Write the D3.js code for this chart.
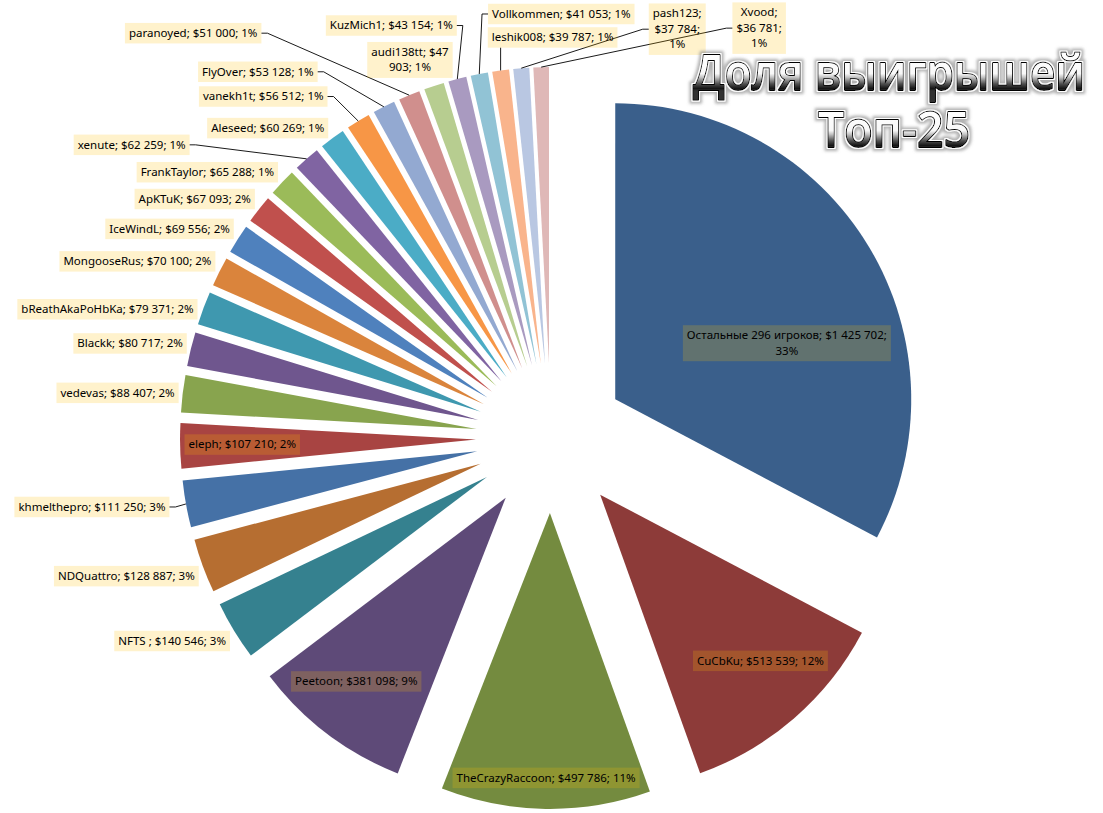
<!DOCTYPE html>
<html>
<head>
<meta charset="utf-8">
<script src="https://cdn.jsdelivr.net/npm/d3@7"></script>
<style>
  body { margin: 0; background: #fff; }
  svg { display: block; }
</style>
</head>
<body>
<svg width="1103" height="813"></svg>
<script>
// players, in the order the slices run clockwise from 12 o'clock
var names = ["Остальные 296 игроков", "CuCbKu", "TheCrazyRaccoon", "Peetoon", "NFTS ", "NDQuattro",
  "khmelthepro", "eleph", "vedevas", "Blackk", "bReathAkaPoHbKa", "MongooseRus", "IceWindL", "ApKTuK",
  "FrankTaylor", "xenute", "Aleseed", "vanekh1t", "FlyOver", "paranoyed", "audi138tt", "KuzMich1",
  "Vollkommen", "leshik008", "pash123", "Xvood"];
// winnings in $
var winnings = [1425702, 513539, 497786, 381098, 140546, 128887,
  111250, 107210, 88407, 80717, 79371, 70100, 69556, 67093,
  65288, 62259, 60269, 56512, 53128, 51000, 47903, 43154,
  41053, 39787, 37784, 36781];
var titleLines = ["Доля выигрышей", "Топ-25"];

// Excel 2007 palette, six accents cycled dark -> light
var colours = ["#3A5F8B", "#8D3B39", "#748B3F", "#5E4A78", "#35818F", "#B66E31",
  "#4571A6", "#A84442", "#88A44E", "#6F568E", "#3F98AF", "#DA843C",
  "#4F81BD", "#C0504D", "#9BBB59", "#8064A2", "#4BACC6", "#F79646",
  "#93A9D1", "#D08F8D", "#B7CD90", "#A99AC0", "#91C3D5", "#F9B48C",
  "#B9C7E2", "#DFB8B7"];

// Label placement, as it was hand-tuned in the workbook.
// inside labels: [fraction of radius, angle shift in degrees]
var insideSpots = {
  "Остальные 296 игроков": [0.61, 13],
  "CuCbKu": [0.78, -3],
  "TheCrazyRaccoon": [0.895, 0],
  "Peetoon": [0.8, 2],
  "eleph": [0.79, 0]
};
// dragged labels: box centre relative to the slice's outer tip
var labelShift = {
  "khmelthepro": [-94, 3], "bReathAkaPoHbKa": [-96, 1], "xenute": [-175, -14],
  "vanekh1t": [-95, -24.5], "FlyOver": [-126, -35], "paranoyed": [-216, -62],
  "audi138tt": [-24, -26], "KuzMich1": [-66, -53.5], "Vollkommen": [82, -60],
  "leshik008": [52, -33], "pash123": [156, -39], "Xvood": [218, -39]
};
// labels whose text box was narrowed so the text wraps
var wrapWidth = { "Остальные 296 игроков": 215, "audi138tt": 84, "pash123": 56, "Xvood": 56 };

var cx = 551, cy = 438, radius = 296, explode = 75;
var labelFont = "'Noto Sans', 'Open Sans', sans-serif", labelSize = 11.5;
var lineH = 15.5, padX = 4, padY = 2.5;
var titleFont = "'Open Sans', 'Noto Sans', sans-serif";

var svg = d3.select("svg");
var total = d3.sum(winnings);
var locale = d3.formatLocale({ decimal: ",", thousands: " ", grouping: [3], currency: ["$", ""] });
var money = locale.format("$,d");
var pct = d3.format(".0%");

var pie = d3.pie().sort(null).value(function(d) { return d; });
var arcs = pie(winnings);
var arc = d3.arc().innerRadius(0).outerRadius(radius);

function mid(a) { return (a.startAngle + a.endAngle) / 2; }
function polar(ang, dist) { return [Math.sin(ang) * dist, -Math.cos(ang) * dist]; }

var chart = svg.append("g").attr("transform", "translate(" + cx + "," + cy + ")");

// slices, each pulled out along its middle angle
chart.selectAll("path.slice")
  .data(arcs)
  .enter().append("path")
  .attr("class", "slice")
  .attr("d", arc)
  .attr("fill", function(d, i) { return colours[i]; })
  .attr("transform", function(d) { return "translate(" + polar(mid(d), explode) + ")"; });

// measuring helper for label text
var meas = svg.append("text").attr("font-family", labelFont).attr("font-size", labelSize)
  .attr("visibility", "hidden");
function textWidth(s) { meas.text(s); return meas.node().getComputedTextLength(); }

function wrapLines(s, maxW) {
  if (!maxW) return [s];
  var words = s.split(" "), lines = [], cur = words[0];
  for (var k = 1; k < words.length; k++) {
    var t = cur + " " + words[k];
    if (textWidth(t) <= maxW) cur = t;
    else { lines.push(cur); cur = words[k]; }
  }
  lines.push(cur);
  return lines;
}

// build the label boxes
var labels = arcs.map(function(a, i) {
  var name = names[i];
  var text = name + "; " + money(winnings[i]) + "; " + pct(winnings[i] / total);
  var lines = wrapLines(text, wrapWidth[name]);
  var w = d3.max(lines, textWidth) + 2 * padX;
  var h = lines.length * lineH + 2 * padY;
  var m = mid(a);
  var tip = polar(m, explode + radius);
  var c, leader = null;
  if (insideSpots[name]) {
    var base = polar(m, explode);
    var sp = insideSpots[name];
    var off = polar(m + sp[1] * Math.PI / 180, sp[0] * radius);
    c = [base[0] + off[0], base[1] + off[1]];
  } else if (labelShift[name]) {
    c = [tip[0] + labelShift[name][0], tip[1] + labelShift[name][1]];
  } else {
    var s = Math.sin(m), k = Math.max(-1, Math.min(1, (Math.cos(m) - 0.1) * 4));
    c = [s < 0 ? tip[0] - 4 - w / 2 : tip[0] + 4 + w / 2, tip[1] - k * h / 2];
  }
  var left = c[0] - w / 2, right = c[0] + w / 2, top = c[1] - h / 2, bottom = c[1] + h / 2;
  if (labelShift[name]) {
    var dx = Math.max(left - tip[0], 0, tip[0] - right), dy = Math.max(top - tip[1], 0, tip[1] - bottom);
    if (Math.sqrt(dx * dx + dy * dy) > 8) {
      if (tip[0] > left + 2 && tip[0] < right - 2) {
        leader = [[tip[0], tip[1] > bottom ? bottom : top], tip];
      } else {
        var side = tip[0] < left ? left : right, stub = tip[0] < left ? -6 : 6;
        leader = [[side, c[1]], [side + stub, c[1]], tip];
      }
    }
  }
  return { lines: lines, x: left, y: top, w: w, h: h, cx: c[0], leader: leader };
});

// leader lines
chart.selectAll("path.leader")
  .data(labels.filter(function(l) { return l.leader; }))
  .enter().append("path")
  .attr("class", "leader")
  .attr("d", function(l) { return d3.line()(l.leader); })
  .attr("fill", "none")
  .attr("stroke", "#000")
  .attr("stroke-width", 0.9);

var lab = chart.selectAll("g.label")
  .data(labels)
  .enter().append("g")
  .attr("class", "label");

lab.append("rect")
  .attr("x", function(l) { return l.x; })
  .attr("y", function(l) { return l.y; })
  .attr("width", function(l) { return l.w; })
  .attr("height", function(l) { return l.h; })
  .attr("fill", "#FFC000")
  .attr("fill-opacity", 0.2);

lab.each(function(l) {
  var t = d3.select(this).append("text")
    .attr("font-family", labelFont)
    .attr("font-size", labelSize)
    .attr("fill", "#000")
    .attr("text-anchor", "middle");
  l.lines.forEach(function(line, j) {
    t.append("tspan")
      .attr("x", l.cx)
      .attr("y", l.y + padY + lineH * j + lineH * 0.74)
      .text(line);
  });
});

// chart title, chrome style with a white rim and soft grey shadow
var defs = svg.append("defs");
var halo = defs.append("filter").attr("id", "halo")
  .attr("x", "-10%").attr("y", "-30%").attr("width", "120%").attr("height", "160%");
halo.append("feMorphology").attr("in", "SourceAlpha").attr("operator", "dilate").attr("radius", 2.8).attr("result", "fat");
halo.append("feGaussianBlur").attr("in", "fat").attr("stdDeviation", 1.5).attr("result", "blur");
halo.append("feFlood").attr("flood-color", "#8a8a8a").attr("flood-opacity", 0.65);
halo.append("feComposite").attr("in2", "blur").attr("operator", "in").attr("result", "shadow");
halo.append("feMorphology").attr("in", "SourceAlpha").attr("operator", "dilate").attr("radius", 1.3).attr("result", "thin");
halo.append("feFlood").attr("flood-color", "#ffffff");
halo.append("feComposite").attr("in2", "thin").attr("operator", "in").attr("result", "rim");
var merge = halo.append("feMerge");
merge.append("feMergeNode").attr("in", "shadow");
merge.append("feMergeNode").attr("in", "rim");
merge.append("feMergeNode").attr("in", "SourceGraphic");

var titleSpec = [
  { text: titleLines[0], x: 889, y: 90, len: 392 },
  { text: titleLines[1], x: 894, y: 147, len: 152 }
];

// pick one title size so the long line is at most slightly squeezed
var tm = svg.append("text").attr("font-family", titleFont).attr("font-weight", 600)
  .attr("font-size", 50).attr("visibility", "hidden").text(titleLines[0]);
var natural = tm.node().getComputedTextLength();
tm.remove();
var titleSize = Math.min(53, 50 * titleSpec[0].len / natural / 0.9);
var capH = titleSize * 0.72;

titleSpec.forEach(function(t, i) {
  var g = defs.append("linearGradient")
    .attr("id", "chrome" + i)
    .attr("gradientUnits", "userSpaceOnUse")
    .attr("x1", 0).attr("x2", 0)
    .attr("y1", t.y - capH).attr("y2", t.y + 1);
  [[0, "#ffffff"], [0.52, "#f8f8f8"], [0.62, "#c4c4c4"], [0.8, "#505050"], [0.93, "#141414"], [1, "#333333"]]
    .forEach(function(s) { g.append("stop").attr("offset", s[0]).attr("stop-color", s[1]); });

  svg.append("text")
    .attr("x", t.x).attr("y", t.y)
    .attr("text-anchor", "middle")
    .attr("font-family", titleFont)
    .attr("font-weight", 600)
    .attr("font-size", titleSize)
    .attr("textLength", t.len)
    .attr("lengthAdjust", "spacingAndGlyphs")
    .attr("fill", "url(#chrome" + i + ")")
    .attr("stroke", "#000")
    .attr("stroke-width", 2)
    .attr("stroke-linejoin", "round")
    .attr("paint-order", "stroke")
    .attr("filter", "url(#halo)")
    .text(t.text);
});
</script>
</body>
</html>
